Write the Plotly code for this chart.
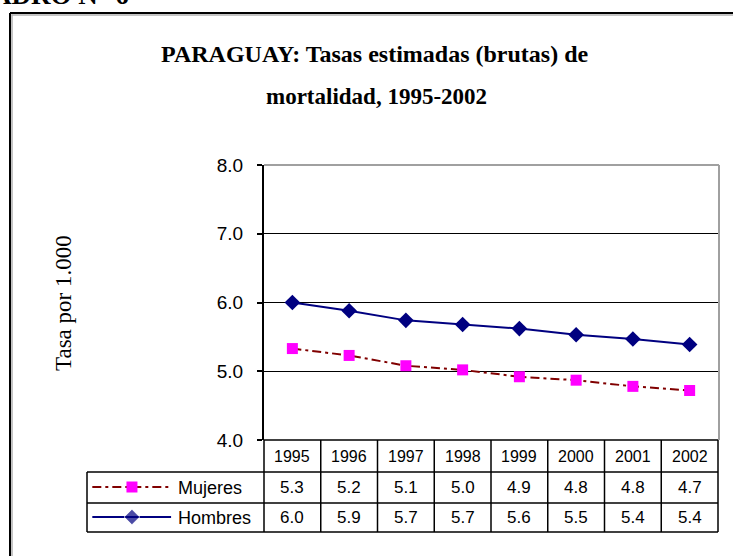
import plotly.graph_objects as go

# ---- data ----
years = ["1995", "1996", "1997", "1998", "1999", "2000", "2001", "2002"]
mujeres = [5.33, 5.23, 5.08, 5.02, 4.92, 4.87, 4.78, 4.72]
hombres = [6.00, 5.88, 5.74, 5.68, 5.62, 5.53, 5.47, 5.39]
mujeres_tabla = ["5.3", "5.2", "5.1", "5.0", "4.9", "4.8", "4.8", "4.7"]
hombres_tabla = ["6.0", "5.9", "5.7", "5.7", "5.6", "5.5", "5.4", "5.4"]
y_ticks = [4.0, 5.0, 6.0, 7.0, 8.0]
series_names = ["Mujeres", "Hombres"]

W, H = 733, 556
def PX(p):
    return p / W
def PY(p):
    return (H - p) / H

# layout geometry (pixels)
plot_l, plot_r, plot_t, plot_b = 264, 718, 165, 440
row_y = [440, 472, 503, 532]
leg_l = 87

xdom = [PX(plot_l), PX(plot_r)]
ydom = [PY(plot_b), PY(plot_t)]

SERIF = "Liberation Serif, Times New Roman, serif"
SANS = "Liberation Sans, Arial, sans-serif"

fig = go.Figure()
xs = list(range(len(years)))

fig.add_trace(go.Scatter(
    x=xs, y=mujeres, mode="lines+markers", name="Mujeres",
    line=dict(color="#800000", width=2, dash="9px,4px,3px,4px"),
    marker=dict(symbol="square", size=11, color="#FF00FF"),
    xaxis="x", yaxis="y", showlegend=False, hoverinfo="skip"))
fig.add_trace(go.Scatter(
    x=xs, y=hombres, mode="lines+markers", name="Hombres",
    line=dict(color="#000080", width=2),
    marker=dict(symbol="diamond", size=12, color="#000080"),
    xaxis="x", yaxis="y", showlegend=False, hoverinfo="skip"))

# legend samples inside the table (own small axes)
fig.add_trace(go.Scatter(
    x=[0.03, 0.254, 0.475], y=[1.5, 1.5, 1.5], mode="lines",
    line=dict(color="#800000", width=2, dash="9px,4px,3px,4px"),
    xaxis="x2", yaxis="y2", showlegend=False, hoverinfo="skip"))
fig.add_trace(go.Scatter(
    x=[0.254], y=[1.5], mode="markers",
    marker=dict(symbol="square", size=11, color="#FF00FF"),
    xaxis="x2", yaxis="y2", showlegend=False, hoverinfo="skip"))
fig.add_trace(go.Scatter(
    x=[0.03, 0.254, 0.475], y=[0.5, 0.5, 0.5], mode="lines+markers",
    line=dict(color="#000080", width=2),
    marker=dict(symbol="diamond", size=[0, 12, 0], color="#000080"),
    xaxis="x2", yaxis="y2", showlegend=False, hoverinfo="skip"))

shapes = []
# outer frame (black with grey inner shadow)
shapes.append(dict(type="line", xref="paper", yref="paper",
                   x0=PX(10), x1=1.0, y0=PY(13), y1=PY(13),
                   line=dict(color="black", width=2)))
shapes.append(dict(type="line", xref="paper", yref="paper",
                   x0=PX(10), x1=PX(10), y0=PY(13), y1=0.0,
                   line=dict(color="black", width=2)))
shapes.append(dict(type="line", xref="paper", yref="paper",
                   x0=PX(11.5), x1=1.0, y0=PY(15), y1=PY(15),
                   line=dict(color="#b0b0b0", width=1.5)))
shapes.append(dict(type="line", xref="paper", yref="paper",
                   x0=PX(12), x1=PX(12), y0=PY(14.5), y1=0.0,
                   line=dict(color="#b0b0b0", width=1.5)))
# plot area border (grey top / right)
shapes.append(dict(type="line", xref="paper", yref="paper",
                   x0=PX(plot_l), x1=PX(plot_r + 1), y0=PY(plot_t), y1=PY(plot_t),
                   line=dict(color="#a0a0a0", width=2)))
shapes.append(dict(type="line", xref="paper", yref="paper",
                   x0=PX(plot_r + 1), x1=PX(plot_r + 1), y0=PY(plot_t), y1=PY(plot_b),
                   line=dict(color="#a0a0a0", width=2)))

# table grid
n = len(years)
col_w = (xdom[1] - xdom[0]) / n
tcol = "#000000"
for i in range(n + 1):
    xv = xdom[0] + i * col_w
    shapes.append(dict(type="line", xref="paper", yref="paper",
                       x0=xv, x1=xv, y0=PY(row_y[0]), y1=PY(row_y[3]),
                       line=dict(color=tcol, width=1.5)))
shapes.append(dict(type="line", xref="paper", yref="paper",
                   x0=xdom[0], x1=xdom[1], y0=PY(row_y[0]), y1=PY(row_y[0]),
                   line=dict(color=tcol, width=1.5)))
for r in row_y[1:]:
    shapes.append(dict(type="line", xref="paper", yref="paper",
                       x0=PX(leg_l), x1=xdom[1], y0=PY(r), y1=PY(r),
                       line=dict(color=tcol, width=1.5)))
shapes.append(dict(type="line", xref="paper", yref="paper",
                   x0=PX(leg_l), x1=PX(leg_l), y0=PY(row_y[1]), y1=PY(row_y[3]),
                   line=dict(color=tcol, width=1.5)))

annotations = []
# cut-off heading at the very top
annotations.append(dict(text="<b>CUADRO N° 6</b>", xref="paper", yref="paper",
                        x=PX(131), y=PY(-5), xanchor="right", yanchor="middle",
                        showarrow=False, font=dict(family=SERIF, size=27, color="black")))
# title
annotations.append(dict(text="<b>PARAGUAY: Tasas estimadas (brutas) de</b>", xref="paper", yref="paper",
                        x=PX(375), y=PY(54), xanchor="center", yanchor="middle",
                        showarrow=False, font=dict(family=SERIF, size=24, color="black")))
annotations.append(dict(text="<b>mortalidad, 1995-2002</b>", xref="paper", yref="paper",
                        x=PX(376), y=PY(96), xanchor="center", yanchor="middle",
                        showarrow=False, font=dict(family=SERIF, size=23, color="black")))
# y axis title
annotations.append(dict(text="Tasa por 1.000", xref="paper", yref="paper",
                        x=PX(64), y=PY(303), xanchor="center", yanchor="middle", textangle=-90,
                        showarrow=False, font=dict(family=SERIF, size=23, color="black")))
# table text
def rc(a, b):
    return PY((row_y[a] + row_y[b]) / 2)
for i, yr in enumerate(years):
    annotations.append(dict(text=yr, xref="x", yref="paper", x=i, y=rc(0, 1),
                            xanchor="center", yanchor="middle",
                            showarrow=False, font=dict(family=SANS, size=16, color="black")))
    annotations.append(dict(text=mujeres_tabla[i], xref="x", yref="paper", x=i, y=rc(1, 2),
                            xanchor="center", yanchor="middle",
                            showarrow=False, font=dict(family=SANS, size=17, color="black")))
    annotations.append(dict(text=hombres_tabla[i], xref="x", yref="paper", x=i, y=rc(2, 3),
                            xanchor="center", yanchor="middle",
                            showarrow=False, font=dict(family=SANS, size=17, color="black")))
for k, nm in enumerate(series_names):
    annotations.append(dict(text=nm, xref="paper", yref="paper", x=PX(176), y=rc(1 + k, 2 + k),
                            xanchor="left", yanchor="middle", showarrow=False,
                            font=dict(family=SANS, size=18, color="black")))

fig.update_layout(
    width=W, height=H,
    margin=dict(l=0, r=0, t=0, b=0, pad=0, autoexpand=False),
    paper_bgcolor="white", plot_bgcolor="white",
    showlegend=False,
    xaxis=dict(domain=xdom, range=[-0.5, n - 0.5], showticklabels=False, showgrid=False,
               zeroline=False, showline=False, ticks="", fixedrange=True, automargin=False),
    yaxis=dict(domain=ydom, range=[4, 8], tickvals=y_ticks, tickformat=".1f",
               showgrid=True, gridcolor="black", gridwidth=1, zeroline=False,
               showline=True, linecolor="black", linewidth=2,
               ticks="outside", ticklen=5, tickcolor="black", tickwidth=1.5,
               ticklabelstandoff=10, automargin=False,
               tickfont=dict(family=SANS, size=19, color="black"), fixedrange=True),
    xaxis2=dict(domain=[PX(leg_l), PX(plot_l)], range=[0, 1], visible=False, fixedrange=True),
    yaxis2=dict(domain=[PY(row_y[3]), PY(row_y[1])], range=[0, 2], visible=False, fixedrange=True),
    shapes=shapes, annotations=annotations,
)

fig.write_html("out.html", config={"displayModeBar": False},
               post_script="document.body.style.margin='0';document.body.style.overflow='hidden';")
